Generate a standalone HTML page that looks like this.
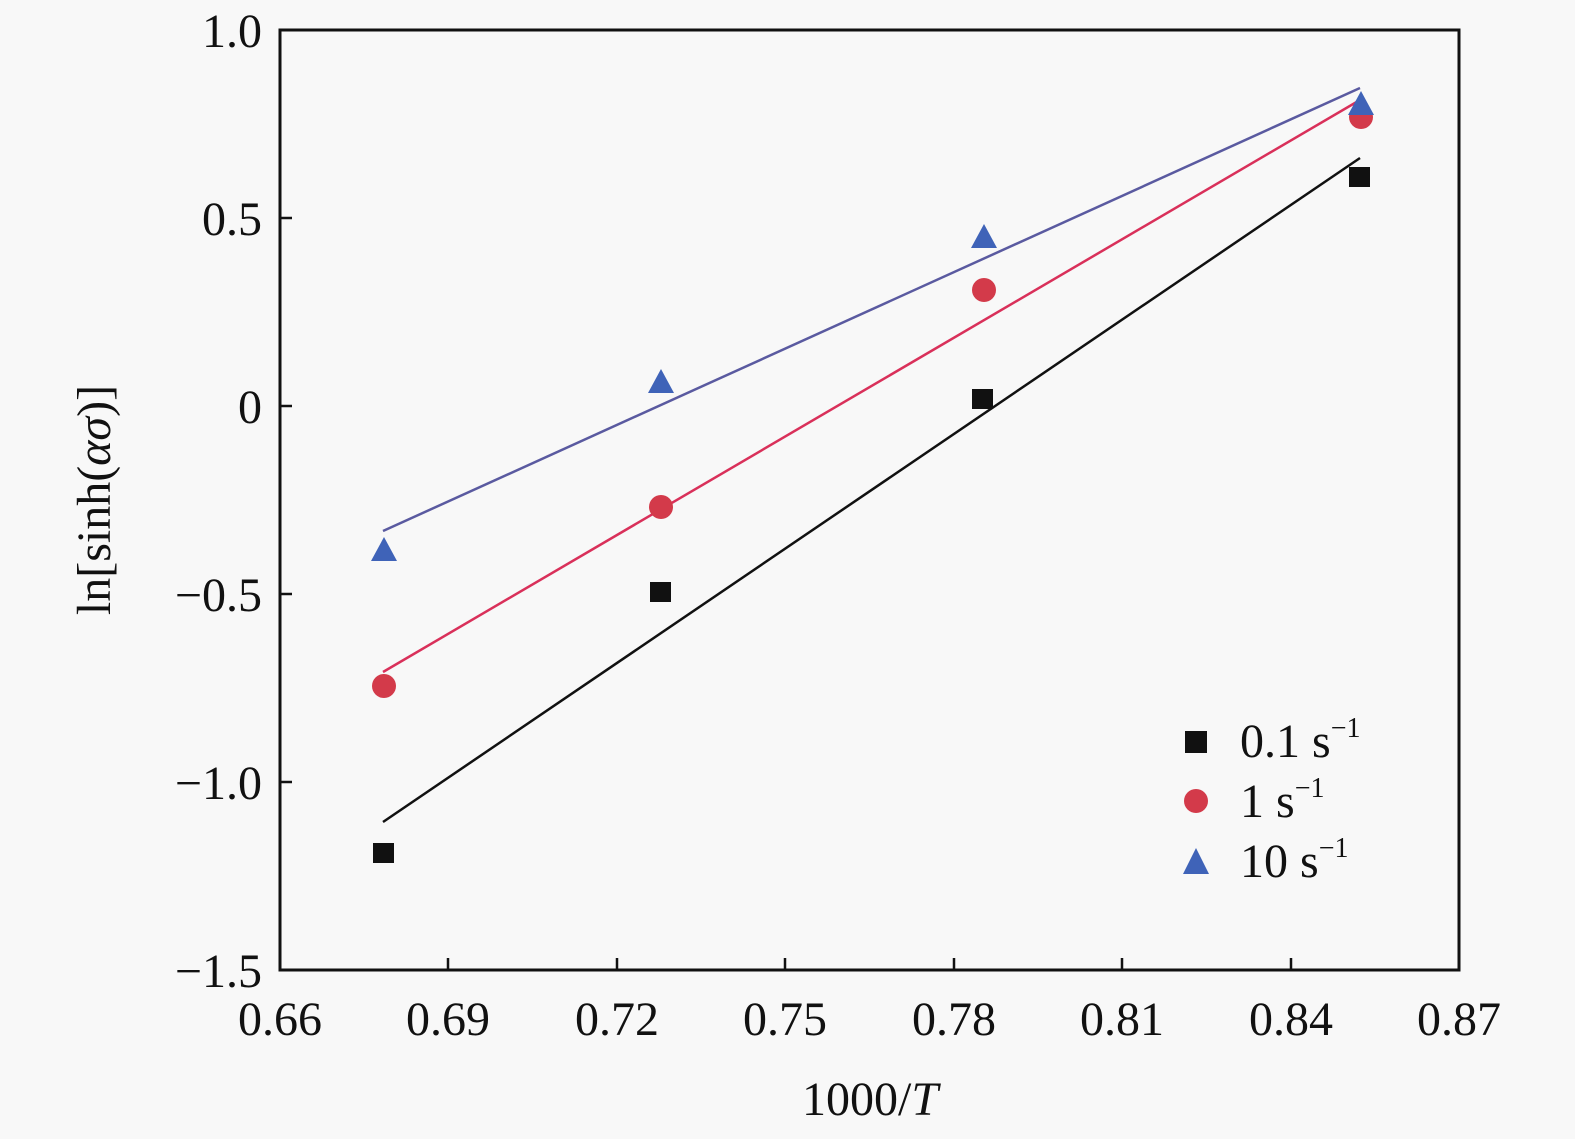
<!DOCTYPE html>
<html><head><style>
html,body{margin:0;padding:0;background:#f8f8f8;}
svg{display:block;}
text{font-family:"Liberation Serif",serif;fill:#111;}
</style></head><body>
<svg width="1575" height="1139" viewBox="0 0 1575 1139">
<rect width="1575" height="1139" fill="#f8f8f8"/>
<rect x="280" y="30" width="1179" height="940" fill="none" stroke="#111" stroke-width="3"/>
<g stroke="#111" stroke-width="2.5">
<line x1="448" y1="970" x2="448" y2="958"/><line x1="617" y1="970" x2="617" y2="958"/>
<line x1="785" y1="970" x2="785" y2="958"/><line x1="954" y1="970" x2="954" y2="958"/>
<line x1="1122" y1="970" x2="1122" y2="958"/><line x1="1291" y1="970" x2="1291" y2="958"/>
<line x1="280" y1="218" x2="292" y2="218"/><line x1="280" y1="406" x2="292" y2="406"/>
<line x1="280" y1="594" x2="292" y2="594"/><line x1="280" y1="782" x2="292" y2="782"/>
</g>
<g font-size="48" text-anchor="end">
<text x="262" y="47">1.0</text><text x="262" y="235">0.5</text><text x="262" y="423">0</text>
<text x="262" y="611">−0.5</text><text x="262" y="799">−1.0</text><text x="262" y="987">−1.5</text>
</g>
<g font-size="48" text-anchor="middle">
<text x="280" y="1035">0.66</text><text x="448" y="1035">0.69</text><text x="617" y="1035">0.72</text>
<text x="785" y="1035">0.75</text><text x="954" y="1035">0.78</text><text x="1122" y="1035">0.81</text>
<text x="1291" y="1035">0.84</text><text x="1459" y="1035">0.87</text>
<text x="870" y="1115">1000/<tspan font-style="italic">T</tspan></text>
</g>
<text font-size="48" text-anchor="middle" transform="translate(110,500) rotate(-90)">ln[sinh(<tspan font-style="italic">ασ</tspan>)]</text>
<line x1="383" y1="822" x2="1360" y2="158" stroke="#111" stroke-width="2.5"/>
<line x1="383" y1="672" x2="1360" y2="100" stroke="#d9305a" stroke-width="2.5"/>
<line x1="383" y1="531" x2="1360" y2="88" stroke="#5a5aa0" stroke-width="2.5"/>
<g fill="#111">
<rect x="373" y="843" width="21" height="20"/><rect x="650" y="582" width="21" height="20"/>
<rect x="972" y="389" width="21" height="20"/><rect x="1349" y="167" width="21" height="20"/>
<rect x="1185" y="731" width="22" height="22"/>
</g>
<g fill="#d33a4a">
<circle cx="384" cy="686" r="12"/><circle cx="661" cy="507" r="12"/>
<circle cx="984" cy="290" r="12"/><circle cx="1361" cy="117" r="12"/>
<circle cx="1196" cy="801" r="12"/>
</g>
<g fill="#3f63b8">
<polygon points="384,537 371,561 397,561"/><polygon points="661,369 648,393 674,393"/>
<polygon points="984,224 971,248 997,248"/><polygon points="1361,91 1348,115 1374,115"/>
<polygon points="1196,848 1183,874 1209,874"/>
</g>
<g font-size="48">
<text x="1240" y="757">0.1 s<tspan font-size="28" dy="-20">−1</tspan></text>
<text x="1240" y="817">1 s<tspan font-size="28" dy="-20">−1</tspan></text>
<text x="1240" y="877">10 s<tspan font-size="28" dy="-20">−1</tspan></text>
</g>
</svg>
</body></html>
